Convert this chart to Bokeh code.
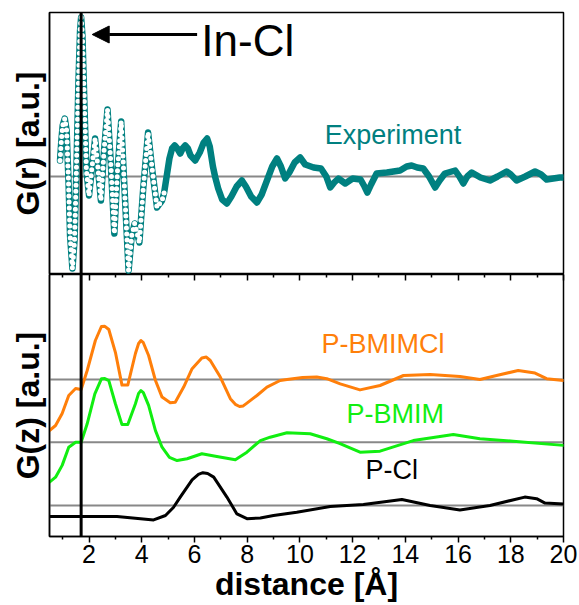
from bokeh.plotting import figure
from bokeh.layouts import column
from bokeh.models import (Range1d, Span, Arrow, NormalHead, Label, LinearAxis,
                          FixedTicker)
from bokeh.embed import file_html
from bokeh.resources import INLINE

# ---------------- data ----------------
exp_r = [0.90, 0.95, 1.00, 1.08, 1.15, 1.22, 1.28, 1.37, 1.45, 1.52, 1.60, 1.66,
         1.70, 1.75, 1.82, 1.90, 2.00, 2.10, 2.23, 2.33, 2.45, 2.57, 2.70, 2.82,
         2.96, 3.08, 3.22, 3.33, 3.50, 3.62, 3.73, 3.91, 4.05, 4.24, 4.40, 4.58,
         4.68, 4.77, 4.85, 4.95, 5.05, 5.15, 5.25, 5.35, 5.46, 5.55, 5.65, 5.75,
         5.85, 6.03, 6.20, 6.35, 6.48, 6.58, 6.70, 6.79, 6.90, 7.05, 7.23, 7.40,
         7.60, 7.80, 7.95, 8.15, 8.37, 8.55, 8.75, 8.95, 9.13, 9.28, 9.44, 9.60,
         9.80, 10.01, 10.20, 10.52, 10.80, 11.00, 11.15, 11.30, 11.46, 11.72, 12.00,
         12.30, 12.45, 12.56, 12.70, 12.91, 13.30, 13.80, 14.05, 14.24, 14.45, 14.68,
         14.90, 15.13, 15.30, 15.50, 15.89, 16.05, 16.20, 16.35, 16.52, 16.85, 17.21,
         17.50, 17.84, 18.00, 18.22, 18.55, 18.92, 19.15, 19.36, 19.86, 20.00]
exp_g = [0.40, 0.90, 1.275, 1.45, 1.15, -0.10, -1.475, -2.30, -1.60, 0.15, 2.40, 3.65,
         3.975, 3.525, 1.90, 0.15, -0.475, 0.15, 0.95, 0.275, -0.60, 0.65, 1.675, 0.40,
         -1.425, 0.15, 1.375, -0.10, -2.35, -1.475, -1.175, -1.65, -0.35, 1.10, 0.15, -0.775,
         -0.68, -0.60, -0.40, 0.025, 0.45, 0.70, 0.775, 0.70, 0.575, 0.70, 0.775, 0.70,
         0.525, 0.40, 0.60, 0.85, 0.95, 0.75, 0.25, -0.025, -0.30, -0.575, -0.675, -0.50,
         -0.25, -0.10, -0.25, -0.50, -0.65, -0.45, -0.10, 0.25, 0.45, 0.25, -0.05, 0.10,
         0.35, 0.475, 0.30, 0.225, 0.20, 0.0, -0.275, -0.15, -0.05, -0.175, -0.05,
         -0.075, -0.25, -0.40, -0.20, 0.075, 0.10, 0.15, 0.25, 0.275, 0.225, 0.20,
         0.0, -0.275, -0.10, 0.075, 0.15, 0.0, -0.175, 0.0, 0.10, -0.025, -0.10,
         0.0, 0.125, 0.05, -0.10, 0.0, 0.125, 0.05, -0.075, -0.025, -0.025]

bmimcl_r = [0.5, 0.73, 0.98, 1.23, 1.49, 1.70, 1.93, 2.24, 2.47, 2.60, 2.75, 3.0, 3.25,
            3.47, 3.76, 3.88, 3.97, 4.06, 4.26, 4.52, 4.77, 5.08, 5.27, 5.59, 5.91, 6.28,
            6.45, 6.6, 6.98, 7.36, 7.55, 7.71, 7.85, 7.99, 8.37, 8.75, 9.25, 9.51, 10.1,
            10.64, 11.02, 11.53, 12.28, 13.04, 13.93, 14.94, 16.07, 16.83, 17.46, 18.28,
            18.92, 19.36, 20.0]
bmimcl_g = [-1.275, -1.15, -0.85, -0.40, -0.225, -0.25, 0.225, 0.975, 1.325, 1.33, 1.25,
            0.68, -0.14, -0.14, 0.65, 0.90, 0.975, 0.92, 0.60, -0.025, -0.44, -0.58, -0.57,
            -0.19, 0.27, 0.54, 0.56, 0.475, 0.06, -0.48, -0.62, -0.675, -0.66, -0.59, -0.40,
            -0.19, -0.025, 0.0, 0.05, 0.06, 0.02, -0.11, -0.26, -0.15, 0.10, 0.125, 0.075,
            0.0, 0.10, 0.225, 0.16, 0.02, -0.025]

bmim_r = [0.5, 0.73, 0.98, 1.23, 1.49, 1.70, 1.93, 2.22, 2.47, 2.60, 2.75, 3.0, 3.25,
          3.47, 3.76, 3.88, 3.97, 4.06, 4.26, 4.52, 4.77, 5.05, 5.34, 5.72, 6.28, 6.85,
          7.55, 7.99, 8.5, 8.87, 9.51, 10.39, 11.02, 11.5, 12.28, 13.04, 14.3, 15.82,
          16.83, 18.09, 20.0]
bmim_g = [-1.0, -0.875, -0.58, -0.125, 0.0, 0.0, 0.46, 1.21, 1.585, 1.59, 1.54, 0.96,
          0.44, 0.44, 0.96, 1.22, 1.29, 1.24, 0.92, 0.29, -0.125, -0.38, -0.46, -0.415,
          -0.29, -0.36, -0.44, -0.25, 0.04, 0.125, 0.235, 0.21, 0.085, -0.03, -0.25,
          -0.225, 0.04, 0.19, 0.085, 0.025, -0.08]

cl_r = [0.5, 3.06, 4.45, 4.9, 5.20, 5.46, 5.91, 6.15, 6.32, 6.50, 6.73, 7.23, 7.61, 7.99,
        8.5, 9.0, 9.88, 11.15, 12.41, 13.87, 14.94, 16.07, 17.21, 18.53, 18.98, 19.3, 20.0]
cl_g = [-0.275, -0.275, -0.36, -0.25, -0.05, 0.21, 0.64, 0.78, 0.82, 0.80, 0.71, 0.21,
        -0.21, -0.33, -0.31, -0.25, -0.17, -0.025, 0.025, 0.15, 0.0, -0.11, 0.0, 0.21,
        0.17, 0.06, 0.04]

series_names = ["P-BMIMCl", "P-BMIM", "P-Cl"]
inclr_position = 1.7          # In-Cl distance marker [Å]
x_major_ticks = [2, 4, 6, 8, 10, 12, 14, 16, 18, 20]
x_minor_ticks = [1, 3, 5, 7, 9, 11, 13, 15, 17, 19]

# ---------------- styles / positions ----------------
TEAL = "#008080"
ORANGE = "#ff7f0a"
GREEN = "#11ee11"
BLACK = "#000000"
GRAY = "#888888"
FONT = "Liberation Sans"
OFFSETS = [3.925, 2.358, 0.775]  # vertical stacking of the simulated curves

xr = Range1d(0.5, 20)


def style_yaxis(ax, label):
    ax.ticker = FixedTicker(ticks=[], minor_ticks=[])
    ax.axis_label = label
    ax.axis_label_text_font = FONT
    ax.axis_label_text_font_style = "bold"
    ax.axis_label_text_font_size = "32px"
    ax.axis_label_text_color = BLACK
    ax.axis_label_standoff = 4
    ax.major_label_standoff = 0
    ax.axis_line_color = BLACK
    ax.axis_line_width = 1.5


# ---------------- top panel ----------------
top = figure(frame_width=514, frame_height=262, x_range=xr, y_range=Range1d(-2.45, 4.1),
             output_backend="svg", toolbar_location=None, x_axis_location=None,
             min_border_left=49, min_border_right=16, min_border_top=12,
             min_border_bottom=0, title=None)
top.grid.visible = False
top.outline_line_color = BLACK
top.outline_line_width = 1.5
top.outline_line_alpha = 1
style_yaxis(top.yaxis[0], "G(r) [a.u.]")

top.add_layout(Span(location=0, dimension="width", line_color=GRAY, line_width=2,
                    level="underlay"))

top.line(exp_r, exp_g, line_color=TEAL, line_width=6.5, line_join="round", line_cap="round")
n_ring = sum(1 for r in exp_r if r <= 4.9)
top.line(exp_r[:n_ring], exp_g[:n_ring], line_color="white", line_width=5,
         line_dash="0 6", line_cap="round", line_join="round")

top.add_layout(Span(location=inclr_position, dimension="height", line_color=BLACK,
                    line_width=3))
top.add_layout(Arrow(end=NormalHead(size=17, fill_color=BLACK, line_color=BLACK),
                     x_start=6.1, y_start=3.55, x_end=2.12, y_end=3.55,
                     line_color=BLACK, line_width=3))
top.add_layout(Label(x=6.26, y=3.40, text="In-Cl", text_font=FONT,
                     text_font_size="44px", text_color=BLACK,
                     text_baseline="alphabetic"))
top.add_layout(Label(x=10.94, y=1.05, text="Experiment", text_font=FONT,
                     text_font_size="27px", text_color=TEAL,
                     text_baseline="alphabetic"))

# ---------------- bottom panel ----------------
bot = figure(frame_width=514, frame_height=262, x_range=xr, y_range=Range1d(0, 6.55),
             output_backend="svg", toolbar_location=None,
             min_border_left=49, min_border_right=16, min_border_top=0,
             min_border_bottom=0, title=None)
bot.grid.visible = False
bot.outline_line_color = BLACK
bot.outline_line_width = 1.5
bot.outline_line_alpha = 1

xa = bot.xaxis[0]
xa.ticker = FixedTicker(ticks=x_major_ticks, minor_ticks=x_minor_ticks)
xa.axis_label = "distance [Å]"
xa.axis_label_text_font = FONT
xa.axis_label_text_font_style = "bold"
xa.axis_label_text_font_size = "32px"
xa.axis_label_text_color = BLACK
xa.axis_label_standoff = 0
xa.major_label_text_font = FONT
xa.major_label_text_font_size = "25px"
xa.major_label_text_color = BLACK
xa.major_label_standoff = 2
xa.major_tick_in = 0
xa.major_tick_out = 6
xa.minor_tick_in = 0
xa.minor_tick_out = 3
xa.major_tick_line_width = 1.5
xa.minor_tick_line_width = 1.5
xa.axis_line_width = 1.5
xa.axis_line_color = BLACK

style_yaxis(bot.yaxis[0], "G(z) [a.u.]")

# tick marks hanging from the panel boundary (no labels: ticks given as minor ticks)
for ticks, length in ((x_major_ticks, 6), (x_minor_ticks, 3)):
    ax_top = LinearAxis(ticker=FixedTicker(ticks=[], minor_ticks=ticks),
                        minor_tick_in=length, minor_tick_out=0,
                        minor_tick_line_width=1.5, minor_tick_line_color=BLACK,
                        major_label_standoff=0, axis_line_color=None)
    bot.add_layout(ax_top, "above")

colors = [ORANGE, GREEN, BLACK]
curves = [(bmimcl_r, bmimcl_g), (bmim_r, bmim_g), (cl_r, cl_g)]
for off in OFFSETS:
    bot.add_layout(Span(location=off, dimension="width", line_color=GRAY, line_width=2,
                        level="underlay"))
for (rr, gg), off, col in zip(curves, OFFSETS, colors):
    bot.line(rr, [g + off for g in gg], line_color=col, line_width=3,
             line_join="round", line_cap="round")

bot.add_layout(Span(location=inclr_position, dimension="height", line_color=BLACK,
                    line_width=3))

label_pos = [(10.82, 4.81), (11.77, 3.07), (12.49, 1.66)]
for name, (lx, ly), col in zip(series_names, label_pos, colors):
    bot.add_layout(Label(x=lx, y=ly, text=name, text_font=FONT, text_font_size="27px",
                         text_color=col, text_baseline="alphabetic"))

layout = column(top, bot, spacing=0)
open("out.html", "w").write(file_html(layout, INLINE))
